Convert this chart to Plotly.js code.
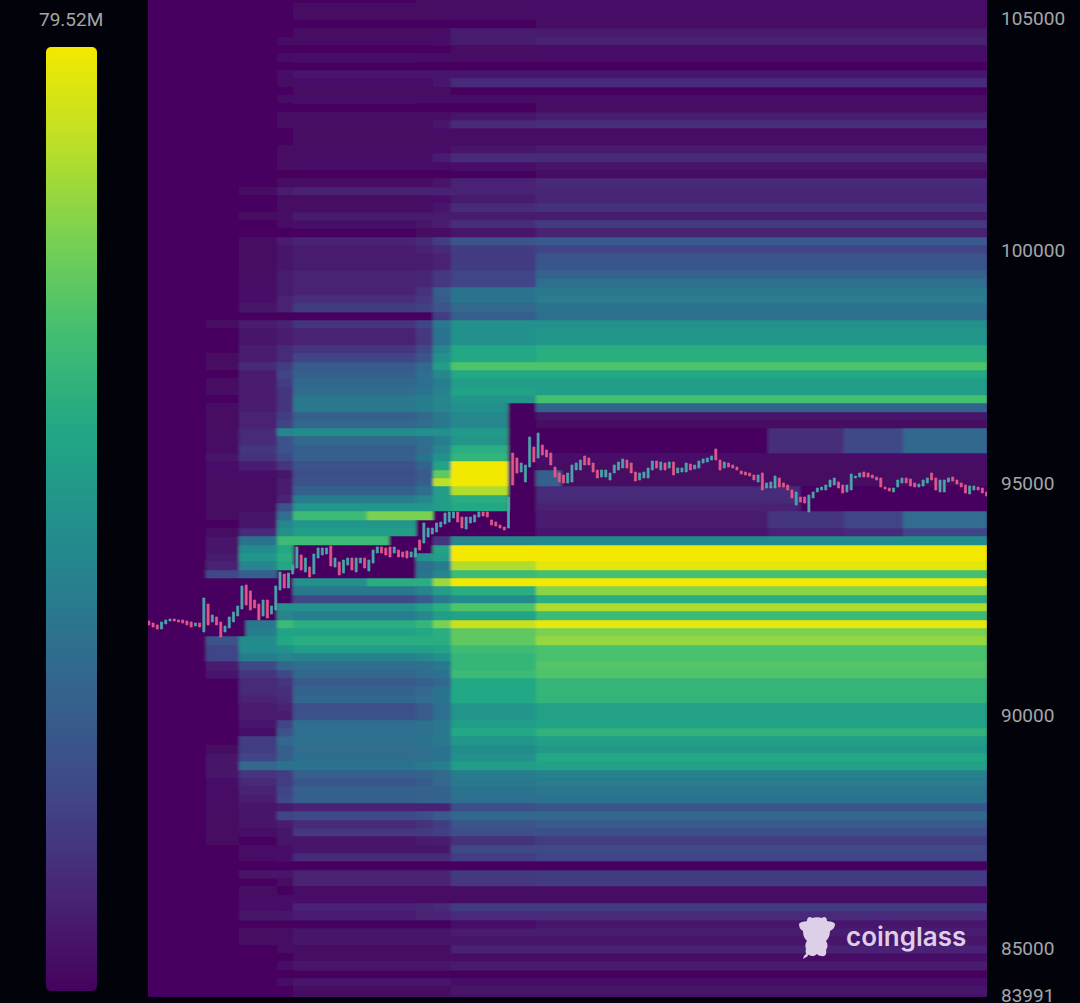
<!DOCTYPE html>
<html>
<head>
<meta charset="utf-8">
<script src="https://cdn.plot.ly/plotly-3.0.1.min.js"></script>
<style>
html,body{margin:0;padding:0;background:#02030a;width:1080px;height:1003px;overflow:hidden}
#chart{position:absolute;left:0;top:0;width:1080px;height:1003px}
#barCorners{position:absolute;left:46px;top:47px;width:51px;height:944px;border-radius:5px;box-shadow:0 0 0 5px #02030a;pointer-events:none}
#logo{position:absolute;left:797px;top:914px;width:40px;height:46px;pointer-events:none}
</style>
</head>
<body>
<div id="chart"></div>
<div id="barCorners"></div>
<svg width="0" height="0" style="position:absolute"><filter id="soften" x="-1%" y="-1%" width="102%" height="102%"><feGaussianBlur stdDeviation="1.6 0.6"/></filter></svg>
<svg id="logo" viewBox="0 0 40 46"><path fill="#ddcfe8" d="M2 10 C4 7 8 8 10 7 C10 3 13 2 15 4 C18 3 22 3 25 4 C27 2 30 3 30 7 C33 8 36 7 38 10 C38 14 35 16 33 17 C33 22 31 25 29 27 C31 30 31 33 29 36 C30 40 28 43 25 42 C22 42 21 41 20 40 C18 42 15 43 12 41 C9 41 8 38 9 35 C8 32 8 29 10 27 C7 24 6 21 6 17 C4 16 2 14 2 10 Z M7 42 L10 39 L11 42 L6 45 Z"/></svg>
<script>
// Liquidation intensity per price row, top of the chart to the bottom (percent of the 79.52M maximum).
var levelsAt205 = [0,
0,0,0,0,0,0,0,0,0,0,
0,0,0,0,0,0,0,0,0,0,
0,0,1,0,0,1,0,0,1,1,
1,1,1,1,1,1,1,0,2,1,
1,1,2,2,1,2,2,1,2,2,
2,3,3,3,5,4,3,2,2,2,
2,2,1,2,5,5,7,10,22,1,
1,1,1,1,1,2,25,20,20,8,
6,1,1,1,1,1,1,1,1,2,
5,5,5,4,3,3,3,3,2,2,
2,1,1,1,1,1,1,1,1,1,
1,1,1,1,1,1,1,1,1,1];
var levelsAt238 = [1,
1,1,0,1,1,0,1,0,1,1,
0,1,0,1,1,1,0,1,1,1,
1,1,2,1,1,2,1,1,2,2,
2,2,3,3,4,4,5,1,8,6,
6,8,8,12,8,8,8,8,8,10,
10,12,12,15,14,8,4,3,3,3,
3,5,5,12,38,48,52,45,30,1,
1,1,1,1,40,42,48,48,42,22,
15,12,12,10,8,8,6,4,18,18,
20,33,15,12,9,8,6,6,5,4,
1,3,3,1,5,1,2,3,4,5,
1,2,2,1,1,1,1,1,1,1];
var levelsAt276 = [1,
1,1,1,1,2,1,2,1,3,2,
1,2,1,2,2,1,1,2,2,2,
1,2,8,2,2,4,3,1,8,6,
5,5,7,7,7,9,10,1,10,8,
8,12,12,18,20,18,15,15,15,18,
20,45,25,25,22,15,6,8,8,10,
25,35,45,50,68,60,62,60,1,1,
1,1,50,45,68,58,60,50,45,33,
22,15,13,12,10,8,20,25,33,30,
30,38,18,18,20,22,7,20,8,6,
5,4,4,1,6,2,1,4,3,6,
1,3,3,2,1,2,1,2,1,1];
var levelsAt292 = [1,
2,2,1,2,3,0,4,1,5,4,
2,4,1,3,3,2,2,3,3,3,
1,3,10,2,2,7,4,1,10,8,
7,7,10,10,10,13,17,1,15,10,
10,15,20,28,30,33,35,40,40,30,
33,48,33,30,30,25,24,25,30,42,
52,68,52,55,68,1,1,1,1,50,
40,22,50,42,62,58,62,55,43,36,
33,28,32,33,24,25,36,36,37,35,
36,38,30,27,30,30,10,22,12,16,
6,5,12,1,9,9,3,4,10,8,
1,5,6,2,2,6,1,5,2,2];
var levelsAt415 = [2,
2,2,1,2,3,1,3,1,5,4,
2,3,1,3,3,2,2,3,3,3,
1,3,10,2,3,7,5,2,12,9,
8,8,11,11,14,16,19,1,20,16,
16,22,26,34,36,36,38,42,42,34,
36,49,36,35,38,32,28,30,36,46,
53,78,52,52,20,50,50,36,38,62,
45,28,55,46,66,60,62,56,45,37,
35,30,34,35,28,28,37,37,38,36,
37,40,31,29,31,31,10,24,14,17,
7,5,12,1,9,9,3,3,11,9,
1,5,6,2,2,6,1,5,2,2];
var levelsAt432 = [3,
3,2,1,3,4,1,3,0,6,6,
2,3,1,3,6,3,2,4,8,3,
1,5,10,4,6,7,8,3,18,12,
10,10,16,16,30,28,26,18,40,38,
38,45,50,55,46,42,44,45,45,40,
40,50,42,45,50,58,75,90,55,55,
55,70,52,55,15,58,55,42,45,85,
55,40,62,55,80,62,62,58,50,40,
38,33,38,38,36,36,40,40,40,38,
38,42,34,34,32,32,10,28,18,19,
8,5,12,1,9,9,3,3,12,10,
1,5,6,2,2,6,1,5,2,2];
var levelsAt450 = [3,
3,3,1,7,7,2,3,0,6,12,
1,3,1,5,12,3,3,5,12,4,
1,10,10,7,12,7,13,5,26,18,
17,18,20,20,38,38,34,30,50,50,
50,60,60,72,60,55,58,52,50,46,
46,54,52,62,65,100,100,100,88,62,
60,62,62,60,46,100,100,88,68,100,
62,48,72,58,92,75,75,68,66,66,
68,60,60,60,52,52,55,60,52,48,
50,55,42,40,38,36,24,33,26,24,
14,22,18,1,17,16,3,3,17,12,
4,8,5,10,3,7,1,4,5,4];
var levelsAt535 = [4,
4,4,2,7,9,3,3,1,6,12,
1,3,2,8,13,3,3,7,12,5,
2,12,11,11,14,7,17,9,28,20,
26,27,31,36,40,41,38,36,50,52,
52,62,63,72,60,55,55,70,32,5,
2,1,1,1,4,2,2,2,12,12,
10,8,8,6,48,100,100,97,70,100,
82,62,88,68,98,80,84,71,71,73,
72,66,66,65,57,57,58,64,56,53,
60,57,44,41,39,38,26,33,28,24,
18,22,20,1,17,17,3,3,17,12,
6,8,5,10,3,7,1,4,5,4];
var levelsBefore205 = levelsAt535.map(function(){return 0;});

// Price rows
var rowBottomPrice = 83908, rowStep = 179.1;

// Time columns, in candle numbers
var columnEdges = [-0.2,13.5,21.3,22.9,30.3,34,51.5,56.7,63.1,67.1,71.4,84.9,91.5,97.4,146.3,154,164.3,178.3,198.3];
var columnLevels = [levelsBefore205,levelsAt205,levelsAt238,levelsAt238,levelsAt276,levelsAt292,levelsAt292,levelsAt292,levelsAt415,levelsAt432,levelsAt450,levelsAt450,levelsAt535,levelsAt535,levelsAt535,levelsAt535,levelsAt535,levelsAt535];

// Zones where price swept liquidity away or where it built up again afterwards
var zoneFrom  = [13.5,22.9,30.3,34,56.7,63.1,67.1,84.9,91.5,146.3,164.3,178.3,154,146.3,164.3,178.3,146.3,164.3,178.3,51.5,51.5];
var zoneTo    = [22.9,30.3,34,56.7,63.1,67.1,84.9,91.5,97.4,164.3,178.3,198.3,198.3,164.3,178.3,198.3,164.3,178.3,198.3,67.1,63.1];
var zoneFirst = [70,69,68,65,64,62,61,48,56,51,51,51,58,61,61,61,63,63,63,61,69];
var zoneLast  = [75,73,71,68,68,65,63,63,57,53,53,53,60,62,62,62,63,63,63,61,69];
var zoneLevel = [1,1,1,1,1,1,1,1,30,13,22,33,1,15,20,35,10,12,20,80,62];

// Candles, oldest first
var candleOpen = [92035,91992,91950,91863,91971,92035,92079,92057,92057,92035,92014,91928,91992,
91799,92401,92014,92122,92014,91799,91885,92014,92143,92294,92810,92681,92487,92401,92143,92487,92186,92272,92702,93046,92745,93046,
93175,93454,93089,93196,93046,93390,93454,93476,93648,93196,93304,93067,93239,93390,93089,93282,93390,93110,93282,93497,93626,93605,93626,93497,93562,93519,93540,93411,93411,93777,
93712,93840,93906,93949,94056,94121,94164,94250,94379,94272,94013,94142,94164,94272,94379,94379,94207,94164,94099,94056,94035,
95647,95540,95239,95024,95346,95776,95540,95819,95712,95647,95346,95217,95175,95003,95024,95282,95282,95583,95540,95432,95282,95131,95131,95067,95217,95282,95325,95497,95432,95239,95067,95110,95110,95282,95475,95282,95432,95325,95454,95217,95239,95239,95411,95304,95325,95432,95454,95497,95733,95497,95325,95432,95390,95346,95260,95239,95217,95175,95024,95217,94895,94895,94895,95110,95003,94960,94852,94529,94701,94701,94379,94680,94809,94852,94852,94917,94960,95024,94960,94809,94852,95110,95131,95239,95217,95175,95131,95110,94917,94895,94809,94917,95003,95110,95089,95003,94917,94938,95003,95217,95110,94809,94809,95024,95131,95067,95003,94960,94766,94852,94917,94895,94809];
var candleClose = [91950,91906,91863,92014,92057,92079,92035,92014,91992,91950,91906,91992,91906,
92530,91950,92165,91950,91692,91928,92122,92229,92358,92788,92380,92272,92315,92057,92487,92100,92358,92788,93089,92745,93067,93239,
93626,93132,93390,92981,93476,93605,93605,93605,93218,93390,93025,93347,93390,93132,93390,93390,93175,93347,93562,93626,93497,93454,93411,93626,93411,93411,93390,93519,93605,93562,
94142,94035,94035,94142,94164,94357,94379,94379,94164,94035,94272,94272,94315,94379,94293,94272,94099,94078,94035,93992,94701,
94960,95217,95432,95390,95991,95454,96077,95604,95562,95390,95131,95024,95003,95217,95390,95432,95497,95390,95390,95239,95110,95282,95282,95217,95390,95454,95518,95325,95217,95046,95217,95239,95325,95475,95325,95454,95282,95454,95175,95325,95325,95432,95282,95390,95475,95518,95540,95583,95497,95282,95454,95346,95325,95282,95196,95175,95153,95067,95175,94852,95003,95024,95153,94917,94917,94852,94680,94809,94594,94572,94744,94809,94895,94917,94960,95067,95110,94895,94787,94960,95196,95153,95217,95131,95131,95110,95067,94917,94873,94830,94895,95067,95110,95003,94938,94917,94981,95067,95110,95067,94852,95067,95067,95110,95046,94981,94917,94787,94938,94938,94852,94787,94723];

// Axis labels and scale text
var priceTicks = [105000,100000,95000,90000,85000,83991];
var scaleMaxLabel = '79.52M';
var brandName = 'coinglass';

var rowCount = levelsAt535.length;
var z = [];
for (var r = rowCount - 1; r >= 0; r--) {
  var row = [];
  for (var c = 0; c < columnLevels.length; c++) {
    var v = columnLevels[c][r];
    for (var s = 0; s < zoneFrom.length; s++) {
      if (columnEdges[c] >= zoneFrom[s] && columnEdges[c + 1] <= zoneTo[s] &&
          r - 1 >= zoneFirst[s] && r - 1 <= zoneLast[s]) { v = zoneLevel[s]; }
    }
    row.push(v);
  }
  z.push(row);
}

var candleIndex = candleOpen.map(function(_, i){ return i; });
var candleHigh = candleOpen.map(function(o, i){ return Math.max(o, candleClose[i]); });
var candleLow = candleOpen.map(function(o, i){ return Math.min(o, candleClose[i]); });

var viridis = [[0,'#46025f'],[0.1,'#482475'],[0.2,'#414487'],[0.3,'#355f8d'],[0.4,'#2a788e'],[0.5,'#21918c'],[0.6,'#22a884'],[0.7,'#44bf70'],[0.8,'#7ad151'],[0.9,'#bddf26'],[1,'#f3e900']];

var traces = [{
  type:'heatmap', x:columnEdges, y0:rowBottomPrice, dy:rowStep, z:z, zmin:0, zmax:100,
  colorscale:viridis, zsmooth:false, hoverinfo:'skip', showscale:true,
  colorbar:{x:(46-148)/839, xanchor:'left', xpad:0, ypad:0, y:1-47/997, yanchor:'top',
    thickness:51, thicknessmode:'pixels', len:944, lenmode:'pixels',
    outlinewidth:0, borderwidth:0, ticks:'', showticklabels:false}
},{
  type:'candlestick', x:candleIndex, open:candleOpen, high:candleHigh, low:candleLow, close:candleClose,
  increasing:{line:{color:'#4aa6ab', width:0.7}, fillcolor:'#4aa6ab'},
  decreasing:{line:{color:'#e2578a', width:0.7}, fillcolor:'#e2578a'},
  whiskerwidth:0, hoverinfo:'skip', showlegend:false
}];

var layout = {
  width:1080, height:1003, paper_bgcolor:'#02030a', plot_bgcolor:'#46025f', showlegend:false,
  margin:{l:148, r:93, t:0, b:6, pad:0, autoexpand:false},
  font:{family:'Roboto, sans-serif', color:'#a4a6aa', size:19},
  xaxis:{range:[-0.2,198.1], visible:false, fixedrange:true, rangeslider:{visible:false}},
  yaxis:{range:[83951,105387], side:'right', tickmode:'array', tickvals:priceTicks, ticktext:priceTicks.map(String),
    ticks:'', showgrid:false, zeroline:false, showline:false, ticklabelstandoff:13, ticklabeloverflow:'allow',
    tickfont:{family:'Roboto, sans-serif', color:'#a4a6aa', size:19}, fixedrange:true},
  annotations:[
    {xref:'paper', yref:'paper', x:(71-148)/839, y:1-19/997, text:scaleMaxLabel, showarrow:false, xanchor:'center', yanchor:'middle',
     font:{family:'Roboto, sans-serif', color:'#a4a6aa', size:19}},
    {xref:'paper', yref:'paper', x:(844-148)/839, y:1-936/997, text:brandName, showarrow:false, xanchor:'left', yanchor:'middle',
     font:{family:'Inter, sans-serif', color:'#ddcfe8', size:26, weight:600}}
  ]
};
Plotly.newPlot('chart', traces, layout, {staticPlot:true, displayModeBar:false}).then(function(){
  var img = document.querySelector('#chart .heatmaplayer image');
  if (img) { img.setAttribute('filter', 'url(#soften)'); }
});
</script>
</body>
</html>
